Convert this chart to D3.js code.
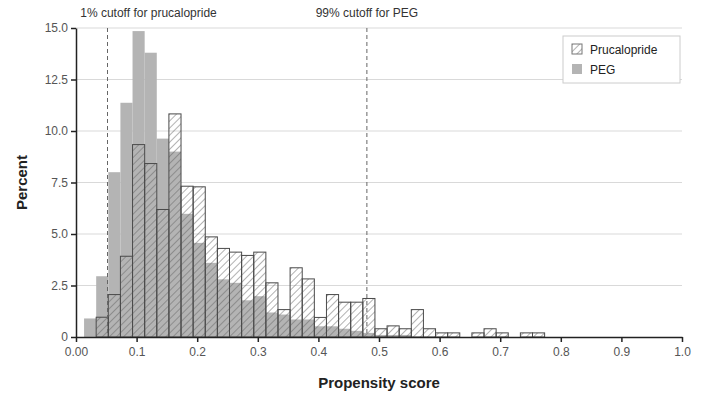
<!DOCTYPE html>
<html>
<head>
<meta charset="utf-8">
<script src="https://cdn.jsdelivr.net/npm/d3@7"></script>
<style>
  body { margin: 0; background: #fff; }
  svg { font-family: "Liberation Sans", Arial, sans-serif; }
</style>
</head>
<body>
<div id="chart"></div>
<script>
// histogram bins: first bin starts at binStart, each bin is binWidth wide
const binStart = 0.0133;
const binWidth = 0.02;

// percent per bin
const prucalopride = [0, 0.96, 2.06, 3.92, 9.34, 8.42, 6.19, 10.83, 7.32, 7.29,
  4.86, 4.3, 4.12, 3.96, 4.12, 2.63, 1.33, 3.36, 2.82, 0.95,
  2.06, 1.69, 1.69, 1.87, 0.4, 0.54, 0.4, 1.33, 0.4, 0.2,
  0.2, 0, 0.2, 0.4, 0.2, 0, 0.2, 0.2];
const peg = [0.9, 2.95, 8.0, 11.37, 14.85, 13.8, 9.63, 9.0, 5.98, 4.57,
  3.6, 2.8, 2.63, 1.78, 1.98, 1.19, 1.09, 0.85, 0.85, 0.52,
  0.52, 0.4, 0.3, 0.2, 0.1, 0.1, 0.1, 0, 0, 0];

const cutoffs = [0.052, 0.48];
const cutoffLabels = ["1% cutoff for prucalopride", "99% cutoff for PEG"];
const xTicks = [0, 0.1, 0.2, 0.3, 0.4, 0.5, 0.6, 0.7, 0.8, 0.9, 1.0];
const yTicks = [0, 2.5, 5, 7.5, 10, 12.5, 15];
const seriesNames = ["Prucalopride", "PEG"];

const w = 709, h = 397;
const margin = {left: 76, right: 27, top: 28, bottom: 60};

const xScale = d3.scaleLinear().domain([0, 1]).range([margin.left, w - margin.right]);
const yScale = d3.scaleLinear().domain([0, 15]).range([h - margin.bottom, margin.top]);

const svg = d3.select("#chart").append("svg")
  .attr("width", w).attr("height", h);

// hatch pattern
const defs = svg.append("defs");
defs.append("pattern")
  .attr("id", "hatch")
  .attr("patternUnits", "userSpaceOnUse")
  .attr("width", 5).attr("height", 5)
  .attr("patternTransform", "rotate(45)")
  .append("line")
  .attr("x1", 0).attr("y1", 0).attr("x2", 0).attr("y2", 5)
  .attr("stroke", "#666").attr("stroke-width", 1);

// gridlines
svg.append("g").selectAll("line")
  .data(yTicks.filter(d => d > 0))
  .enter().append("line")
  .attr("x1", xScale(0)).attr("x2", xScale(1))
  .attr("y1", d => yScale(d)).attr("y2", d => yScale(d))
  .attr("stroke", "#d9d9d9").attr("stroke-width", 1);

const binX = i => xScale(binStart + i * binWidth);

// PEG bars (grey)
svg.append("g").selectAll("rect")
  .data(peg)
  .enter().append("rect")
  .attr("x", (d, i) => binX(i))
  .attr("y", d => yScale(d))
  .attr("width", (d, i) => binX(i + 1) - binX(i))
  .attr("height", d => yScale(0) - yScale(d))
  .attr("fill", "#b4b4b4");

// prucalopride bars (hatched)
svg.append("g").selectAll("rect")
  .data(prucalopride.map((v, i) => ({v, i})).filter(d => d.v > 0))
  .enter().append("rect")
  .attr("x", d => binX(d.i))
  .attr("y", d => yScale(d.v))
  .attr("width", d => binX(d.i + 1) - binX(d.i))
  .attr("height", d => yScale(0) - yScale(d.v))
  .attr("fill", "url(#hatch)")
  .attr("stroke", "#4a4a4a").attr("stroke-width", 1);

// cutoff lines
svg.append("g").selectAll("line")
  .data(cutoffs)
  .enter().append("line")
  .attr("x1", d => xScale(d)).attr("x2", d => xScale(d))
  .attr("y1", yScale(15)).attr("y2", yScale(0))
  .attr("stroke", "#666").attr("stroke-width", 1)
  .attr("stroke-dasharray", "4,3");

svg.append("text")
  .attr("x", xScale(0.007)).attr("y", 17)
  .attr("font-size", 12).attr("fill", "#333")
  .text(cutoffLabels[0]);
svg.append("text")
  .attr("x", xScale(cutoffs[1])).attr("y", 17)
  .attr("text-anchor", "middle")
  .attr("font-size", 12).attr("fill", "#333")
  .text(cutoffLabels[1]);

// axes
const xAxis = d3.axisBottom(xScale).tickValues(xTicks)
  .tickSize(5).tickSizeOuter(0)
  .tickFormat(d => d === 0 ? "0.00" : d3.format(".1f")(d));
const gx = svg.append("g")
  .attr("transform", "translate(0," + yScale(0) + ")")
  .call(xAxis);

const yAxis = d3.axisLeft(yScale).tickValues(yTicks)
  .tickSize(5).tickSizeOuter(0)
  .tickFormat(d => d === 0 ? "0" : d3.format(".1f")(d));
const gy = svg.append("g")
  .attr("transform", "translate(" + xScale(0) + ",0)")
  .call(yAxis);

[gx, gy].forEach(g => {
  g.select(".domain").attr("stroke", "#222").attr("stroke-width", 1.5);
  g.selectAll(".tick line").attr("stroke", "#222").attr("stroke-width", 1.5);
  g.selectAll(".tick text").attr("font-size", 12).attr("fill", "#555")
    .attr("font-family", "Liberation Sans, Arial, sans-serif");
});
gx.selectAll(".tick text").attr("dy", "0.95em");

// axis titles
svg.append("text")
  .attr("x", xScale(0.5)).attr("y", 388)
  .attr("text-anchor", "middle")
  .attr("font-size", 15).attr("font-weight", "bold").attr("fill", "#222")
  .text("Propensity score");
svg.append("text")
  .attr("transform", "translate(27," + yScale(7.5) + ") rotate(-90)")
  .attr("text-anchor", "middle")
  .attr("font-size", 15).attr("font-weight", "bold").attr("fill", "#222")
  .text("Percent");

// legend
const legend = svg.append("g").attr("transform", "translate(563,36)");
legend.append("rect")
  .attr("width", 117).attr("height", 47)
  .attr("fill", "#fff").attr("stroke", "#ccc");
const items = legend.selectAll("g.item")
  .data(seriesNames)
  .enter().append("g")
  .attr("transform", (d, i) => "translate(9," + (8 + i * 20) + ")");
items.append("rect")
  .attr("width", 10).attr("height", 10)
  .attr("fill", (d, i) => i === 0 ? "url(#hatch)" : "#b4b4b4")
  .attr("stroke", (d, i) => i === 0 ? "#777" : "none");
items.append("text")
  .attr("x", 18).attr("y", 10)
  .attr("font-size", 12).attr("fill", "#222")
  .text(d => d);
</script>
</body>
</html>
